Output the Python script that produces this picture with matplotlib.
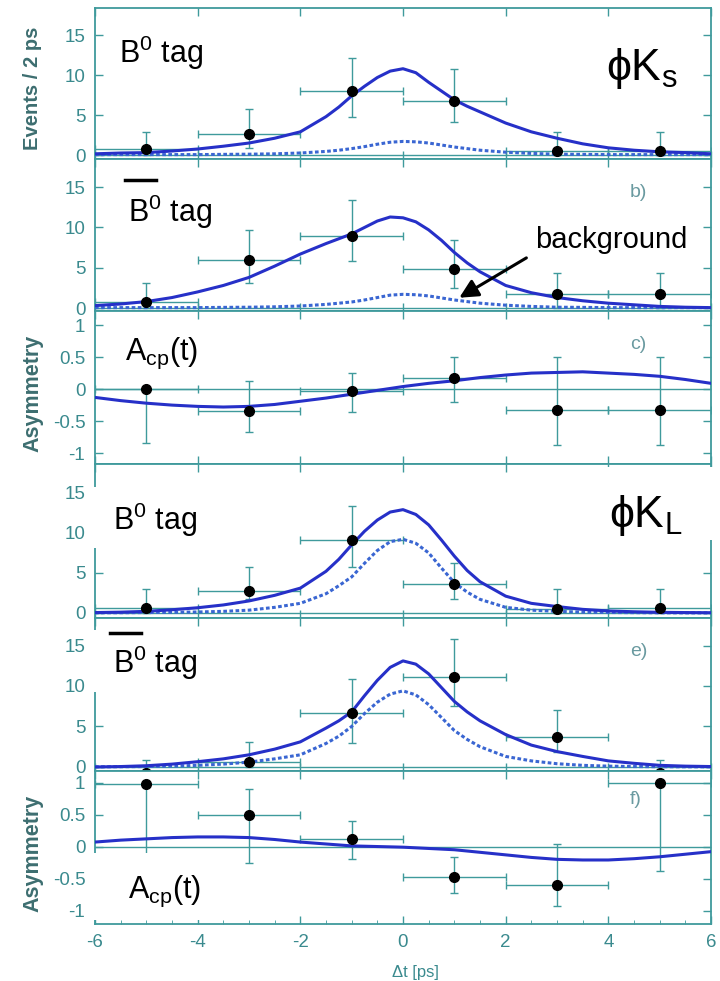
import numpy as np
import matplotlib
matplotlib.use("Agg")
import matplotlib.pyplot as plt
from matplotlib.lines import Line2D
from matplotlib.patches import Rectangle

plt.rcParams['font.family'] = ['Liberation Sans', 'DejaVu Sans']
plt.rcParams['mathtext.fontset'] = 'custom'
plt.rcParams['mathtext.rm'] = 'Liberation Sans'
plt.rcParams['mathtext.it'] = 'Liberation Sans:italic'
plt.rcParams['axes.unicode_minus'] = False

# time bins (centre, half width 1 ps)
bin_t = [-5, -3, -1, 1, 3, 5]

# fitted peak curves: every 0.5 ps, every 0.25 ps around the peak
t_fit = [-6, -5.5, -5, -4.5, -4, -3.5, -3, -2.5, -2, -1.5, -1.25, -1, -0.75, -0.5, -0.25, 0,
         0.25, 0.5, 0.75, 1, 1.25, 1.5, 2, 2.5, 3, 3.5, 4, 4.5, 5, 5.5, 6]
# asymmetry curves every 0.5 ps
t_asym = [-6, -5.5, -5, -4.5, -4, -3.5, -3, -2.5, -2, -1.5, -1, -0.5, 0,
          0.5, 1, 1.5, 2, 2.5, 3, 3.5, 4, 4.5, 5, 5.5, 6]

# a) phiKs, B0 tag
a_y = [0.7, 2.6, 8.0, 6.8, 0.5, 0.5]
a_up = [2.2, 3.2, 4.2, 4.0, 2.4, 2.4]
a_dn = [0.7, 1.7, 3.2, 2.7, 0.5, 0.5]
a_fit = [0.15, 0.25, 0.3, 0.5, 0.75, 1.1, 1.5, 2.1, 2.9, 4.8, 6.0, 7.4, 8.6, 9.7, 10.5, 10.8,
         10.3, 9.1, 8.0, 6.9, 6.1, 5.4, 4.0, 2.9, 2.1, 1.4, 0.9, 0.6, 0.4, 0.3, 0.15]
a_bkg = [0.05, 0.05, 0.05, 0.05, 0.05, 0.08, 0.1, 0.15, 0.25, 0.45, 0.6, 0.8, 1.05, 1.35, 1.6, 1.7,
         1.65, 1.5, 1.25, 1.0, 0.8, 0.6, 0.35, 0.2, 0.1, 0.08, 0.05, 0.05, 0.05, 0.05, 0.05]

# b) phiKs, B0bar tag
b_y = [0.7, 5.9, 9.0, 4.9, 1.8, 1.8]
b_up = [2.4, 3.8, 4.4, 3.5, 2.6, 2.6]
b_dn = [0.7, 2.8, 3.2, 2.4, 1.8, 1.8]
b_fit = [0.3, 0.5, 0.8, 1.3, 2.0, 2.8, 3.8, 5.2, 6.7, 8.0, 8.6, 9.2, 10.0, 10.8, 11.3, 11.2,
         10.7, 9.7, 8.4, 6.9, 5.6, 4.5, 2.8, 1.9, 1.3, 0.9, 0.6, 0.4, 0.2, 0.1, 0.05]
b_bkg = [0.05, 0.05, 0.05, 0.05, 0.05, 0.08, 0.1, 0.15, 0.25, 0.45, 0.6, 0.75, 1.0, 1.3, 1.6, 1.7,
         1.65, 1.5, 1.25, 1.0, 0.8, 0.6, 0.35, 0.2, 0.1, 0.08, 0.05, 0.05, 0.05, 0.05, 0.05]

# c) phiKs asymmetry
c_y = [0.0, -0.34, -0.03, 0.18, -0.32, -0.32]
c_up = [0.0, 0.46, 0.28, 0.32, 0.82, 0.82]
c_dn = [0.84, 0.33, 0.32, 0.38, 0.55, 0.55]
c_fit = [-0.13, -0.18, -0.22, -0.25, -0.27, -0.28, -0.27, -0.24, -0.19, -0.14, -0.08,
         -0.02, 0.04, 0.09, 0.13, 0.18, 0.22, 0.25, 0.26, 0.27, 0.25, 0.23, 0.2, 0.15, 0.09]

# d) phiKL, B0 tag
d_y = [0.67, 2.7, 9.1, 3.6, 0.5, 0.6]
d_up = [2.3, 3.0, 4.2, 2.7, 2.5, 2.4]
d_dn = [0.67, 1.0, 3.3, 1.9, 0.5, 0.6]
d_fit = [0.05, 0.1, 0.2, 0.4, 0.65, 1.0, 1.5, 2.2, 3.1, 5.2, 6.7, 8.5, 10.2, 11.6, 12.6, 12.9,
         12.3, 11.0, 9.1, 7.1, 5.3, 3.9, 2.1, 1.2, 0.8, 0.45, 0.25, 0.15, 0.08, 0.05, 0.03]
d_bkg = [0.02, 0.03, 0.05, 0.08, 0.12, 0.2, 0.35, 0.7, 1.2, 2.4, 3.4, 4.5, 6.2, 7.8, 8.9, 9.2,
         8.7, 7.5, 5.6, 3.8, 2.6, 1.7, 0.7, 0.35, 0.2, 0.1, 0.06, 0.04, 0.02, 0.01, 0.01]

# e) phiKL, B0bar tag
e_y = [-0.8, 0.66, 6.7, 11.1, 3.7, -0.8]
e_up = [1.6, 2.4, 4.2, 4.7, 3.3, 1.6]
e_dn = [0.0, 0.66, 3.7, 3.6, 1.8, 0.0]
e_fit = [0.0, 0.05, 0.15, 0.35, 0.65, 1.0, 1.5, 2.2, 3.1, 4.8, 5.7, 6.8, 8.8, 10.7, 12.3, 13.1,
         12.7, 11.5, 9.8, 8.1, 6.8, 5.7, 4.0, 2.7, 1.9, 1.3, 0.75, 0.45, 0.2, 0.1, 0.05]
e_bkg = [0.02, 0.03, 0.05, 0.1, 0.2, 0.35, 0.6, 1.0, 1.5, 2.9, 3.8, 5.0, 6.6, 8.0, 9.0, 9.4,
         8.9, 7.7, 6.1, 4.5, 3.4, 2.5, 1.3, 0.75, 0.4, 0.2, 0.1, 0.05, 0.03, 0.02, 0.01]

# f) phiKL asymmetry
f_y = [0.98, 0.49, 0.12, -0.47, -0.6, 0.99]
f_up = [0.0, 0.41, 0.28, 0.31, 0.64, 0.0]
f_dn = [1.13, 0.75, 0.31, 0.25, 0.33, 1.37]
f_fit = [0.07, 0.1, 0.12, 0.14, 0.15, 0.15, 0.14, 0.11, 0.07, 0.04, 0.01, 0.0, -0.01,
         -0.03, -0.05, -0.09, -0.13, -0.17, -0.2, -0.21, -0.21, -0.19, -0.16, -0.12, -0.08]

count_ticks = [0, 5, 10, 15]
asym_ticks = [-1, -0.5, 0, 0.5, 1]
asym_labels = ["-1", "-0.5", "0", "0.5", "1"]
x_ticks = [-6, -4, -2, 0, 2, 4, 6]

teal = "#3f9a9c"
lab_col = "#3a8a8e"
blue = "#2630c8"
blue2 = "#3a66d2"

W, H = 720, 981
fig = plt.figure(figsize=(7.2, 9.81), dpi=100)

# panel pixel edges (top, bottom) and y-limits
edges = [(8, 159), (159, 311), (311, 464), (464, 618), (618, 771), (771, 924)]
ylims = [(-0.5, 18.4), (-0.37, 18.5), (-1.17, 1.22), (-0.63, 18.6), (-0.5, 18.4), (-1.21, 1.18)]

panels = [
    (a_y, a_up, a_dn, t_fit, a_fit, a_bkg),
    (b_y, b_up, b_dn, t_fit, b_fit, b_bkg),
    (c_y, c_up, c_dn, t_asym, c_fit, None),
    (d_y, d_up, d_dn, t_fit, d_fit, d_bkg),
    (e_y, e_up, e_dn, t_fit, e_fit, e_bkg),
    (f_y, f_up, f_dn, t_asym, f_fit, None),
]

axes = []
for i, (yv, up, dn, tt, fit, bkg) in enumerate(panels):
    top, bot = edges[i]
    ax = fig.add_axes([95 / W, 1 - bot / H, 616 / W, (bot - top) / H])
    axes.append(ax)
    ax.set_xlim(-6, 6)
    ax.set_ylim(*ylims[i])
    ax.axhline(0, color=teal, lw=1, zorder=1)
    ax.errorbar(bin_t, yv, yerr=[dn, up], xerr=1, fmt='none', ecolor=teal,
                elinewidth=1, capsize=3, capthick=1, zorder=2)
    if bkg is not None:
        ax.plot(tt, bkg, color=blue2, lw=2.2, linestyle=(0, (1.2, 0.8)), zorder=3)
    ax.plot(tt, fit, color=blue, lw=2.2, zorder=3, solid_joinstyle='round')
    ax.plot(bin_t, yv, 'o', color='black', markersize=7, zorder=5)

    for s in ax.spines.values():
        s.set_color(teal)
        s.set_linewidth(1.3)
    ax.set_xticks(x_ticks)
    if i in (2, 5):
        ax.set_yticks(asym_ticks)
        ax.set_yticklabels(asym_labels)
    else:
        ax.set_yticks(count_ticks)
    ax.tick_params(direction='in', length=6, width=1, color=teal, labelcolor=lab_col,
                   labelsize=13.5, top=True, right=True, pad=7)
    if i < 5:
        ax.tick_params(labelbottom=False)

axes[5].set_xticks(np.arange(-6, 6.01, 0.5), minor=True)
axes[5].tick_params(which='minor', direction='in', length=3, color=teal, top=False)
axes[5].set_xlabel("Δt [ps]", color=lab_col, fontsize=12, labelpad=8)
axes[5].xaxis.set_label_coords(0.52, -0.27)

# panel letters
for ax, lab, yy in [(axes[1], "b)", 14.3), (axes[2], "c)", 0.69),
                    (axes[4], "e)", 14.2), (axes[5], "f)", 0.73)]:
    ax.text(4.42, yy, lab, color="#6a9aa0", fontsize=14, va='center')

# y axis titles
fig.text(33 / W, 1 - 88 / H, "Events / 2 ps", rotation=90, ha='center', va='center',
         fontsize=14.5, fontweight='bold', color="#3d6e70")
for yc in (393, 853):
    fig.text(33 / W, 1 - yc / H, "Asymmetry", rotation=90, ha='center', va='center',
             fontsize=15.5, fontweight='bold', color="#3d6e70")

# white boxes behind some of the big labels (they hide the frame in the original)
for x0, y0, x1, y1 in [(92, 487, 207, 548), (92, 630, 200, 692),
                       (92, 853, 205, 920), (590, 467, 714, 540)]:
    fig.patches.append(Rectangle((x0 / W, 1 - y1 / H), (x1 - x0) / W, (y1 - y0) / H,
                                 transform=fig.transFigure, facecolor='white',
                                 edgecolor='none', zorder=2))

# large overlay labels
tag = r"B$^\mathrm{0}$ tag"
fig.text(119 / W, 1 - 63 / H, tag, fontsize=22, va='baseline', zorder=4)
fig.text(128 / W, 1 - 222 / H, tag, fontsize=22, va='baseline', zorder=4)
fig.text(125 / W, 1 - 360 / H, r"A$_\mathrm{cp}$(t)", fontsize=22, va='baseline', zorder=4)
fig.text(113 / W, 1 - 530 / H, tag, fontsize=22, va='baseline', zorder=4)
fig.text(113 / W, 1 - 673 / H, tag, fontsize=22, va='baseline', zorder=4)
fig.text(128 / W, 1 - 898 / H, r"A$_\mathrm{cp}$(t)", fontsize=22, va='baseline', zorder=4)
fig.text(606 / W, 1 - 80 / H, r"ϕK$_\mathrm{s}$", fontsize=32, va='baseline', zorder=4)
fig.text(609 / W, 1 - 527 / H, r"ϕK$_\mathrm{L}$", fontsize=32, va='baseline', zorder=4)

for x1, x2, yy in [(125, 156, 180), (110, 141, 633)]:
    fig.add_artist(Line2D([x1 / W, x2 / W], [1 - yy / H, 1 - yy / H],
                          transform=fig.transFigure, color='black', lw=2.5, zorder=4))

# background arrow in panel b
axes[1].annotate("", xy=(1.05, 1.1), xytext=(2.45, 6.4),
                 arrowprops=dict(arrowstyle='-|>', color='black', lw=2.2, mutation_scale=28))
axes[1].text(2.57, 8.5, "background", fontsize=21, va='center')

plt.savefig("out.png", dpi=100)
